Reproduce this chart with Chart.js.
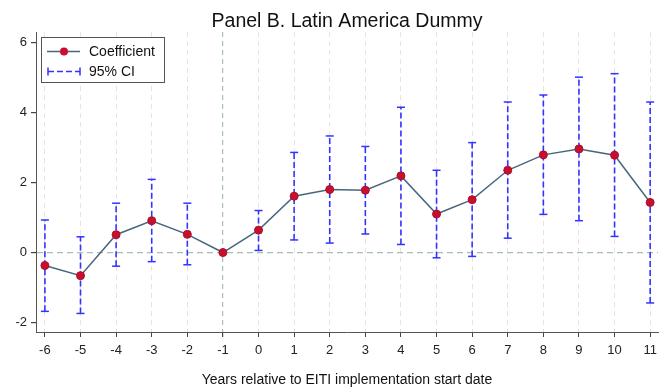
<!DOCTYPE html>
<html>
<head>
<meta charset="utf-8">
<script src="https://cdn.jsdelivr.net/npm/chart.js@4.4.0/dist/chart.umd.min.js"></script>
<style>
  body { margin: 0; background: #fff; }
</style>
</head>
<body>
<canvas id="cv1" width="669" height="390"></canvas>
<script>
// values
const years  = [-6, -5, -4, -3, -2, -1, 0, 1, 2, 3, 4, 5, 6, 7, 8, 9, 10, 11];
const coef   = [-0.37, -0.66, 0.51, 0.91, 0.52, 0, 0.64, 1.61, 1.80, 1.78, 2.19, 1.10, 1.51, 2.35, 2.79, 2.96, 2.78, 1.43];
const ciLow  = [-1.68, -1.74, -0.39, -0.26, -0.35, null, 0.06, 0.36, 0.27, 0.53, 0.23, -0.15, -0.11, 0.41, 1.09, 0.91, 0.46, -1.44];
const ciHigh = [0.93, 0.45, 1.41, 2.09, 1.41, null, 1.20, 2.86, 3.33, 3.03, 4.15, 2.35, 3.14, 4.30, 4.50, 5.01, 5.11, 4.30];
const yTicks = [-2, 0, 2, 4, 6];

const FONT = "'Liberation Sans', Arial, sans-serif";
const lineColor = '#47677f';
const dotColor = '#c8102e';
const ciColor = '#3333ff';
const refColor = '#a9bdb7';

Chart.defaults.font.family = FONT;
Chart.defaults.color = '#222';

// coefficient points
const coefData = years.map((x, i) => ({x: x, y: coef[i]}));

// CI whiskers: low -> high, then a null to break the line
const ciData = [];
years.forEach((x, i) => {
  if (ciLow[i] == null) return;
  ciData.push({x: x, y: ciLow[i]});
  ciData.push({x: x, y: ciHigh[i]});
  ciData.push({x: x, y: null});
});

// legend box drawn by hand (Stata style, inside the plot)
const legendBox = {
  id: 'legendBox',
  afterDraw(chart) {
    const ctx = chart.ctx;
    ctx.save();
    ctx.fillStyle = '#fff';
    ctx.fillRect(41.5, 37.5, 123, 45);
    ctx.strokeStyle = '#555';
    ctx.lineWidth = 1;
    ctx.strokeRect(41.5, 37.5, 123, 45);

    // Coefficient
    ctx.strokeStyle = lineColor;
    ctx.lineWidth = 1.5;
    ctx.beginPath(); ctx.moveTo(47, 51.5); ctx.lineTo(80, 51.5); ctx.stroke();
    ctx.fillStyle = dotColor;
    ctx.beginPath(); ctx.arc(64, 51.5, 4, 0, Math.PI * 2); ctx.fill();

    // 95% CI
    ctx.strokeStyle = ciColor;
    ctx.lineWidth = 1.5;
    ctx.setLineDash([6, 3]);
    ctx.beginPath(); ctx.moveTo(48, 71.5); ctx.lineTo(80, 71.5); ctx.stroke();
    ctx.setLineDash([]);
    ctx.beginPath();
    ctx.moveTo(48, 67.5); ctx.lineTo(48, 75.5);
    ctx.moveTo(80, 67.5); ctx.lineTo(80, 75.5);
    ctx.stroke();

    ctx.fillStyle = '#111';
    ctx.font = '14px ' + FONT;
    ctx.textBaseline = 'middle';
    ctx.fillText('Coefficient', 89, 52);
    ctx.fillText('95% CI', 89, 72);
    ctx.restore();
  }
};

const chart = new Chart(document.getElementById('cv1'), {
  type: 'line',
  data: {
    datasets: [
      {
        label: 'Coefficient',
        data: coefData,
        order: 0,
        borderColor: lineColor,
        borderWidth: 1.5,
        pointRadius: 4,
        pointBackgroundColor: dotColor,
        pointBorderColor: '#a80f2a',
        pointBorderWidth: 1,
        tension: 0
      },
      {
        label: '95% CI',
        data: ciData,
        order: 1,
        borderColor: ciColor,
        borderWidth: 1.6,
        borderDash: [6, 3],
        spanGaps: false,
        pointStyle: 'line',
        pointRadius: 4,
        pointBorderColor: ciColor,
        pointBorderWidth: 1.5,
        tension: 0
      }
    ]
  },
  options: {
    responsive: false,
    animation: false,
    devicePixelRatio: 1,
    layout: { padding: { left: 0, right: 11, top: 0, bottom: 0 } },
    plugins: {
      legend: { display: false },
      tooltip: { enabled: false },
      title: {
        display: true,
        fullSize: false,
        text: 'Panel B. Latin America Dummy',
        font: { size: 19.5, weight: 'normal', lineHeight: 1 },
        color: '#111',
        padding: { top: 12, bottom: 0.5 }
      }
    },
    scales: {
      x: {
        type: 'linear',
        min: -6.25,
        max: 11.22,
        afterBuildTicks: s => { s.ticks = years.map(v => ({value: v})); },
        afterFit: s => { s.height = 58; },
        ticks: { font: { size: 13 }, color: '#222', padding: 6, maxRotation: 0, autoSkip: false },
        grid: {
          color: c => (c.tick && c.tick.value === -1) ? refColor : '#e4e4e4',
          lineWidth: c => (c.tick && c.tick.value === -1) ? 1.2 : 1,
          tickColor: '#444',
          tickLength: 5,
          drawTicks: true
        },
        border: { display: true, color: '#555', width: 1, dash: [5, 4] },
        title: {
          display: true,
          text: 'Years relative to EITI implementation start date',
          font: { size: 14 },
          color: '#111',
          padding: { top: 0, bottom: 1 }
        }
      },
      y: {
        min: -2.27,
        max: 6.3,
        afterBuildTicks: s => { s.ticks = yTicks.map(v => ({value: v})); },
        afterFit: s => { s.width = 36; },
        ticks: { font: { size: 13 }, color: '#222', padding: 4 },
        grid: {
          color: c => (c.tick && c.tick.value === 0) ? refColor : 'rgba(0,0,0,0)',
          lineWidth: 1.2,
          tickColor: '#444',
          tickLength: 5
        },
        border: { display: true, color: '#555', width: 1, dash: [6, 4] }
      }
    }
  },
  plugins: [legendBox]
});
</script>
</body>
</html>
